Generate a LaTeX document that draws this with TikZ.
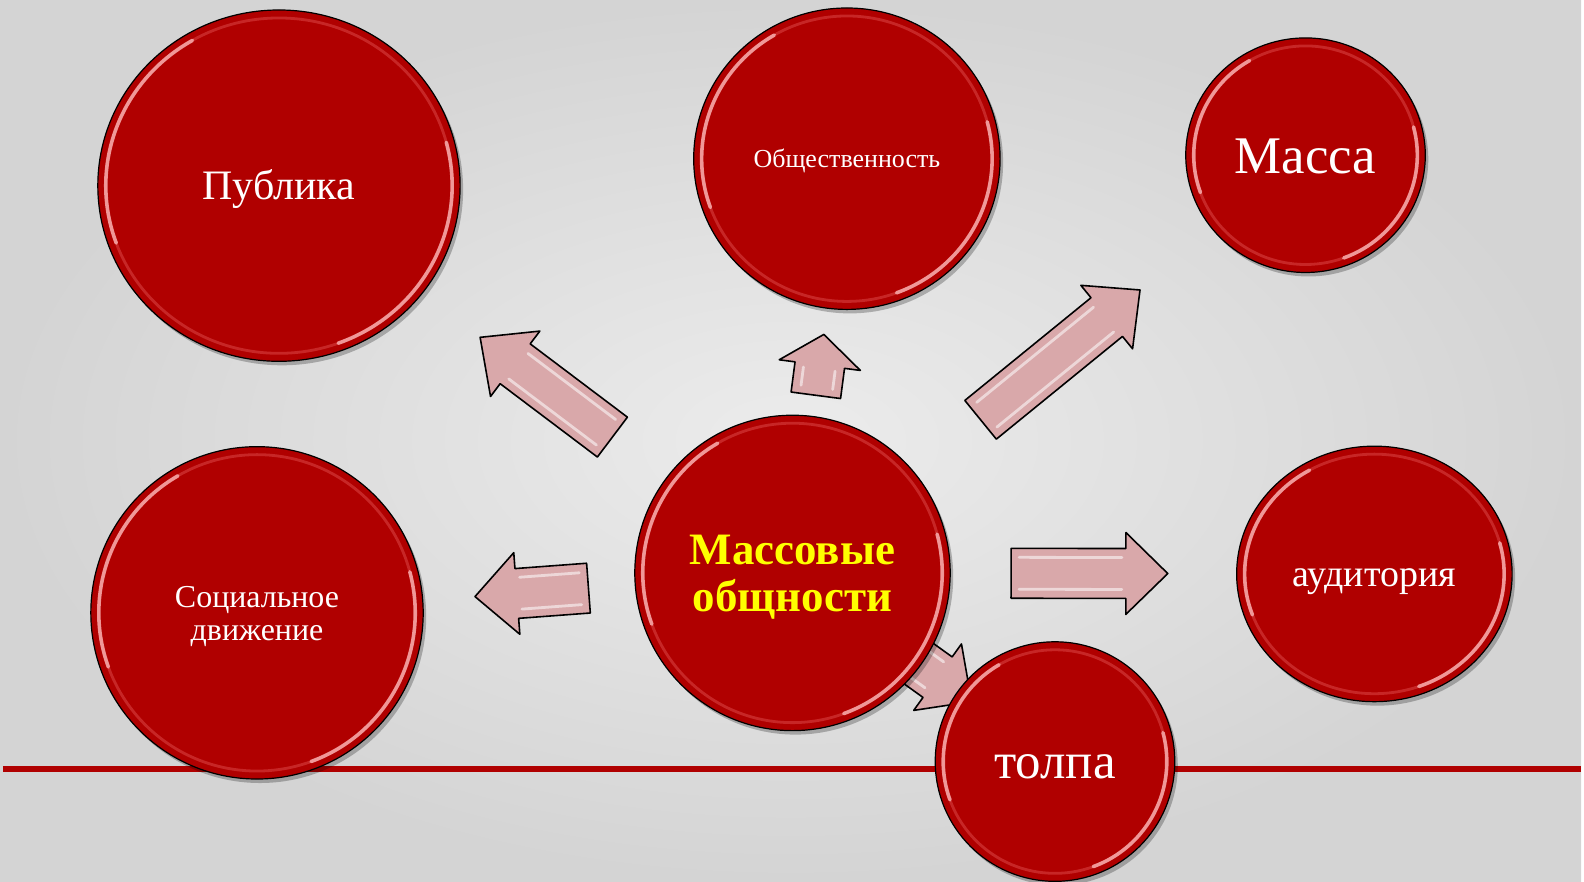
\documentclass[tikz,border=0pt]{standalone}
\usepackage{fontspec}
\setmainfont{Liberation Serif}
\usetikzlibrary{calc,shapes.geometric,shadows}
\definecolor{bred}{RGB}{176,0,0}
\definecolor{apink}{RGB}{217,168,170}
\definecolor{ylw}{RGB}{255,255,0}
\definecolor{bgin}{RGB}{236,236,236}
\definecolor{bgout}{RGB}{212,212,212}
\pgfdeclarelayer{back}
\pgfdeclarelayer{mid}
\pgfsetlayers{back,mid,main}
\tikzset{
  bubble/.style={ellipse, fill=bred, draw=black, line width=0.6pt, inner sep=0pt, outer sep=0pt,
    text=white, align=center,
    drop shadow={shadow xshift=1.5pt, shadow yshift=-2pt, opacity=0.25, fill=black}},
  ring/.style={draw=red!50!white, line width=1.4pt, opacity=0.3},
  shine/.style={draw=red!25!white, line width=1.8pt, opacity=0.75, line cap=round},
  blockarrow/.style={fill=apink, draw=black, line width=0.8pt, line join=round},
  gloss/.style={draw=white, line width=1.4pt, opacity=0.55, line cap=round},
  rule/.style={draw=bred, line width=3pt},
  yellowtext/.style={text=ylw},
}
\newcommand\myup{\rule{0pt}{0.891em}}
\newcommand\mydn{\rule[-0.216em]{0pt}{0pt}}
\newcommand\bub[7][]{% options, name, pos, width pt, height pt, font, text
  \node[bubble, minimum width=#4pt, minimum height=#5pt, font={#6}, #1] (#2) at (#3) {#7};
  \pgfmathsetmacro\myrx{#4/2-4}\pgfmathsetmacro\myry{#5/2-4}
  \draw[ring] (#2.center) ellipse [x radius=\myrx pt, y radius=\myry pt];
  \draw[shine] (#2.center) ++(120:\myrx pt and \myry pt) arc[start angle=120, end angle=200, x radius=\myrx pt, y radius=\myry pt];
  \draw[shine] (#2.center) ++(-70:\myrx pt and \myry pt) arc[start angle=-70, end angle=15, x radius=\myrx pt, y radius=\myry pt];
}
\newcommand\barrow[6]{% from, to, tail dist, tip dist, head length, id
  \coordinate (t#6) at ($(#1.center)!#3pt!(#2.center)$);
  \coordinate (h#6) at ($(#1.center)!#4pt!(#2.center)$);
  \coordinate (n#6) at ($(h#6)!#5pt!(t#6)$);
  \draw[blockarrow] ($(t#6)!12.5pt!90:(h#6)$) -- ($(n#6)!12.5pt!90:(h#6)$) -- ($(n#6)!20.5pt!90:(h#6)$)
    -- (h#6) -- ($(n#6)!20.5pt!-90:(h#6)$) -- ($(n#6)!12.5pt!-90:(h#6)$) -- ($(t#6)!12.5pt!-90:(h#6)$) -- cycle;
  \coordinate (ta#6) at ($(t#6)!4pt!(h#6)$);
  \coordinate (na#6) at ($(n#6)!-2pt!(h#6)$);
  \draw[gloss] ($(ta#6)!8pt!90:(h#6)$) -- ($(na#6)!8pt!90:(h#6)$);
  \draw[gloss] ($(ta#6)!8pt!-90:(h#6)$) -- ($(na#6)!8pt!-90:(h#6)$);
}
\begin{document}
\begin{tikzpicture}[x=0.5pt,y=-0.5pt]
\begin{pgfonlayer}{back}
  \shade[inner color=bgin, outer color=bgout] (0,0) rectangle (1584,883);
  \coordinate (rl) at (3,770);
  \coordinate (rr) at (1584,770);
  \draw[rule] (rl) -- (rr);
\end{pgfonlayer}
\useasboundingbox (0,0) rectangle (1584,883);

\bub{pub}{279.5,186}{181.5}{176}{\fontsize{21}{24}\selectfont}{\myup\mydn Публика}
\bub{obs}{848.5,159}{153.5}{151}{\fontsize{13}{15}\selectfont}{\myup\mydn Общественность}
\bub{mas}{1308,155.5}{120}{117.5}{\fontsize{26.5}{30}\selectfont}{\myup\mydn Масса}
\bub{soc}{257.5,614}{166.5}{166.5}{\fontsize{16}{16.5}\selectfont}{\myup Социальное\\\mydn движение}
\bub[yellowtext]{mo}{794,574}{158}{158}{\fontsize{22.5}{23.75}\selectfont\bfseries}{\myup Массовые\\\mydn общности}
\bub{aud}{1377,575}{138}{128}{\fontsize{19}{22}\selectfont}{\myup\mydn аудитория}
\bub{tol}{1057,763}{120}{120}{\fontsize{25.5}{28}\selectfont}{\myup\mydn толпа}

\begin{pgfonlayer}{mid}
  \barrow{mo}{pub}{113}{196}{22}{1}
  \barrow{mo}{obs}{89.75}{120.5}{15.5}{2}
  \barrow{mo}{mas}{121.5}{224.5}{21.5}{3}
  \barrow{mo}{soc}{102.5}{159.5}{21}{4}
  \barrow{mo}{aud}{109.5}{188}{21}{5}
  \barrow{mo}{tol}{60}{110.5}{21}{6}
\end{pgfonlayer}
\end{tikzpicture}
\end{document}
